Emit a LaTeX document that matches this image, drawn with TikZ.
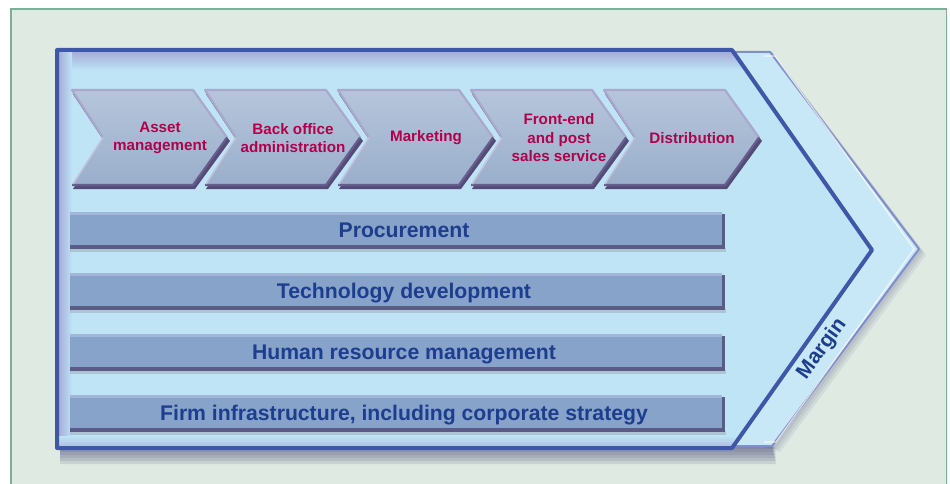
\documentclass[tikz,border=0pt]{standalone}
\usepackage{fontspec}
\setmainfont{Liberation Sans}

\definecolor{bgcol}{HTML}{DFEAE3}
\definecolor{bgline}{HTML}{7DAE98}
\definecolor{panel}{HTML}{BEE4F6}
\definecolor{panelline}{HTML}{3F57A8}
\definecolor{panelband}{HTML}{A3A6D6}
\definecolor{marginline}{HTML}{7F8ECC}
\definecolor{chevtop}{HTML}{B6C5DB}
\definecolor{chevbot}{HTML}{9AAECB}
\definecolor{chevedge}{HTML}{ABA8CE}
\definecolor{chevshade}{HTML}{564A7A}
\definecolor{barfill}{HTML}{88A3C9}
\definecolor{bartop}{HTML}{A2B7D7}
\definecolor{barshade}{HTML}{5C5B85}
\definecolor{stagetext}{HTML}{B0004C}
\definecolor{bartext}{HTML}{1D3D8E}

\tikzset{
  stagelabel/.style={align=center, text=stagetext,
    font=\fontsize{15.2}{18.5}\selectfont\bfseries},
  barlabel/.style={anchor=base, text=bartext,
    font=\fontsize{21.2}{24}\selectfont\bfseries},
}

\begin{document}
\begin{tikzpicture}[x=1pt, y=-1pt]
    \useasboundingbox (0,0) rectangle (950,484);
    \clip (0,0) rectangle (950,484);
    \fill[white] (0,0) rectangle (950,484);
    \draw[bgline, fill=bgcol, line width=1.2] (11,9) rectangle (946.5,520);

    % soft shadow under the whole arrow
    \foreach \d in {3,6,9,12,15,18}
        \fill[black!50!blue!30!gray, opacity=0.16]
            (60,440) -- (770,440) -- (776,446+\d) -- (60,446+\d) -- cycle;
    \foreach \d in {2,4,6}
        \fill[black!50!blue!30!gray, opacity=0.10]
            (772,52) -- (920+\d,249+\d) -- (774+\d,446+\d) -- (760,446) -- cycle;

    % margin arrow behind the panel
    \draw[marginline, line width=2, fill=panel!85!white, line join=round]
        (60,52) -- (770,52) -- (919,249) -- (772,446) -- (60,446) -- cycle;
    \draw[white, opacity=0.7, line width=1.2]
        (764,56) -- (775,56) -- (914,249) -- (776,442) -- (764,442);

    % value chain panel
    \fill[panel] (57,50) -- (732,50) -- (872,250) -- (732,448) -- (57,448) -- cycle;
    \begin{scope}
        \clip (57,50) -- (732,50) -- (872,250) -- (732,448) -- (57,448) -- cycle;
        \shade[top color=panelband, bottom color=panel] (57,50) rectangle (880,70);
        \shade[left color=panelband, right color=panel] (57,50) rectangle (72,448);
        \shade[top color=panel, bottom color=panelband!70!panel] (57,436) rectangle (880,448);
    \end{scope}
    \draw[panelline, line width=4, line join=round]
        (57,50) -- (732,50) -- (872,250) -- (732,448) -- (57,448) -- cycle;

    % primary activities
    \foreach \i/\name/\txt in {0/asset/{Asset\\management},
                                1/backoffice/{Back office\\administration},
                                2/marketing/{Marketing},
                                3/frontend/{Front-end\\and post\\sales service},
                                4/distribution/{Distribution}}{
        \pgfmathsetmacro\xa{72+133*\i}
        \fill[chevshade] (\xa+1,94) -- (\xa+123,94) -- (\xa+158,141) -- (\xa+123,189)
            -- (\xa+1,189) -- (\xa+32,141) -- cycle;
        \path[top color=chevtop, bottom color=chevbot]
            (\xa,90) -- (\xa+121,90) -- (\xa+155,137.5) -- (\xa+121,185)
            -- (\xa,185) -- (\xa+31,137.5) -- cycle;
        \draw[chevedge, line width=2.2, line join=round]
            (\xa+31,137.5) -- (\xa,90) -- (\xa+121,90) -- (\xa+155,137.5);
        \draw[chevshade!80!chevbot, line width=2.2, line join=round]
            (\xa+155,137.5) -- (\xa+121,185) -- (\xa,185);
        \draw[chevedge!70!white, line width=1.5] (\xa+1,184) -- (\xa+31,137.5);
        \node[stagelabel] (\name) at (\xa+88,138) {\txt};
    }

    % support activities
    \foreach \j/\name/\txt in {0/procurement/{Procurement},
                                1/technology/{Technology development},
                                2/humanres/{Human resource management},
                                3/infrastructure/{Firm infrastructure, including corporate strategy}}{
        \pgfmathsetmacro\ya{212+61*\j}
        \fill[gray, opacity=0.3] (70,\ya+36) rectangle (726,\ya+40);
        \fill[barshade] (70,\ya+2) rectangle (725,\ya+37);
        \fill[barfill] (70,\ya) rectangle (722,\ya+33);
        \fill[bartop] (70,\ya) rectangle (722,\ya+3);
        \node[barlabel] (\name) at (404,\ya+25.5) {\txt};
    }

    \node[rotate=54, text=bartext, font=\fontsize{21}{24}\selectfont\bfseries]
        (margin) at (822,349) {Margin};
\end{tikzpicture}
\end{document}
